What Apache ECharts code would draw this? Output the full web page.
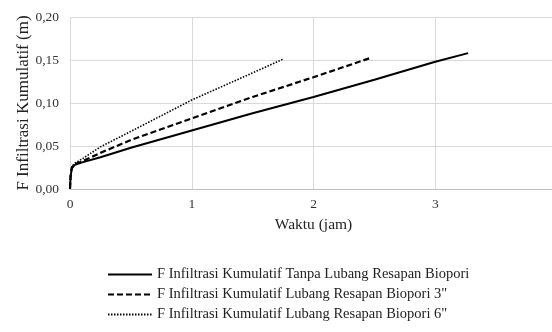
<!DOCTYPE html>
<html><head><meta charset="utf-8">
<script src="https://cdn.jsdelivr.net/npm/echarts@6/dist/echarts.min.js"></script>
<style>html,body{margin:0;padding:0;background:#fff}#c{width:552px;height:332px}</style>
</head><body><div id="c"></div>
<script>
var seriesNames = [
  'F Infiltrasi Kumulatif Tanpa Lubang Resapan Biopori',
  'F Infiltrasi Kumulatif Lubang Resapan Biopori 3"',
  'F Infiltrasi Kumulatif Lubang Resapan Biopori 6"'
];
var timeTanpa = [0, 0.005, 0.015, 0.04, 0.1, 0.25, 0.5, 1, 1.5, 2, 2.5, 3, 3.27];
var valTanpa  = [0, 0.015, 0.024, 0.028, 0.031, 0.037, 0.048, 0.068, 0.088, 0.107, 0.127, 0.148, 0.158];
var time3 = [0, 0.005, 0.015, 0.04, 0.1, 0.25, 0.5, 1, 1.5, 2, 2.46];
var val3  = [0, 0.015, 0.025, 0.029, 0.032, 0.042, 0.057, 0.082, 0.107, 0.130, 0.152];
var time6 = [0, 0.005, 0.015, 0.04, 0.1, 0.25, 0.5, 1, 1.5, 1.75];
var val6  = [0, 0.016, 0.026, 0.030, 0.035, 0.049, 0.067, 0.1035, 0.135, 0.151];
var xTicks = [0, 1, 2, 3, 4];
var yTicks = [0, 0.05, 0.10, 0.15, 0.20];

function pairs(t, v){ return t.map(function(x,i){ return [x, v[i]]; }); }
var font = '"Liberation Serif","Times New Roman",serif';
var chart = echarts.init(document.getElementById('c'));
chart.setOption({
  animation: false,
  textStyle: {fontFamily: font},
  grid: {left: 70, top: 17, width: 487, height: 172, containLabel: false, outerBoundsMode: 'none'},
  legend: {
    orient: 'vertical', left: 102, top: 262, itemGap: 5,
    itemWidth: 44, itemHeight: 14,
    itemStyle: {opacity: 0},
    textStyle: {fontFamily: font, fontSize: 14.5, color: '#222'},
    data: seriesNames.map(function(n){ return {name: n}; })
  },
  xAxis: {
    type: 'value', min: xTicks[0], max: xTicks[xTicks.length-1], interval: 1,
    name: 'Waktu (jam)', nameLocation: 'middle', nameGap: 28,
    nameTextStyle: {fontFamily: font, fontSize: 15.5, color: '#222'},
    axisLine: {show: true, lineStyle: {color: '#bfbfbf', width: 1}},
    axisTick: {show: false},
    axisLabel: {fontFamily: font, fontSize: 13.5, color: '#333', margin: 8},
    splitLine: {show: true, lineStyle: {color: '#d9d9d9', width: 1}}
  },
  yAxis: {
    type: 'value', min: yTicks[0], max: yTicks[yTicks.length-1], interval: 0.05,
    name: 'F Infiltrasi Kumulatif (m)', nameLocation: 'middle', nameGap: 38, nameRotate: 90,
    nameMoveOverlap: false,
    nameTextStyle: {fontFamily: font, fontSize: 17, color: '#222'},
    axisLine: {show: false}, axisTick: {show: false},
    axisLabel: {fontFamily: font, fontSize: 13.5, color: '#333', margin: 11,
      formatter: function(v){ return v.toFixed(2).replace('.', ','); }},
    splitLine: {show: true, lineStyle: {color: '#d9d9d9', width: 1}}
  },
  series: [
    {name: seriesNames[0], type: 'line', data: pairs(timeTanpa, valTanpa), symbol: 'none', smooth: false,
     lineStyle: {color: '#000', width: 2, type: 'solid'}, itemStyle: {color: '#000'}},
    {name: seriesNames[1], type: 'line', data: pairs(time3, val3), symbol: 'none',
     lineStyle: {color: '#000', width: 2.2, type: [6, 3]}, itemStyle: {color: '#000'}},
    {name: seriesNames[2], type: 'line', data: pairs(time6, val6), symbol: 'none',
     lineStyle: {color: '#000', width: 1.6, type: [1.5, 1.5]}, itemStyle: {color: '#000'}}
  ]
});
</script></body></html>
